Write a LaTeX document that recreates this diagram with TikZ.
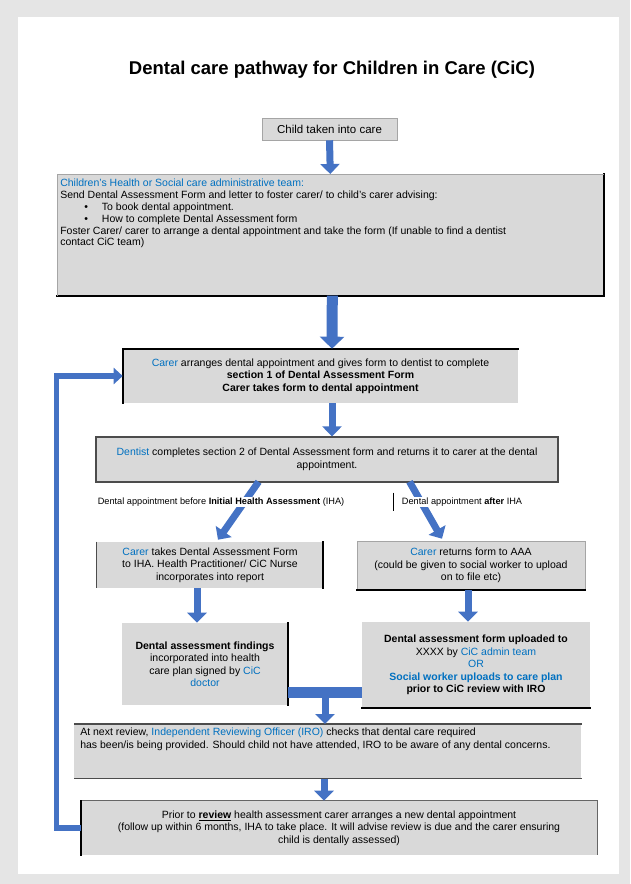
\documentclass[tikz,border=0pt]{standalone}
\usepackage{fontspec}
\setmainfont{Liberation Sans}
\usepackage{xcolor}
\usepackage{tikz}
\usetikzlibrary{positioning, arrows.meta, calc}

\definecolor{boxgray}{RGB}{217,217,217}
\definecolor{edgegray}{RGB}{165,165,165}
\definecolor{flowblue}{RGB}{68,114,196}
\definecolor{txtblue}{RGB}{0,112,192}
\definecolor{pagegray}{RGB}{229,229,229}

\tikzset{
	stepbox/.style={fill=boxgray, draw=edgegray, line width=0.6pt, inner sep=3pt, align=center,
	font=\fontsize{10.5}{12.5}\selectfont}
}
\tikzset{
	shadowedge/.style={line width=1.8pt, draw=black, line cap=rect}
}
\tikzset{
	flow/.style={draw=flowblue, line width=7pt, -{Triangle[width=19pt,length=10pt]}}
}
\tikzset{
	flowwide/.style={draw=flowblue, line width=11pt, -{Triangle[width=24pt,length=12pt]}}
}
\tikzset{
	branchlabel/.style={fill=white, inner sep=1pt, font=\fontsize{9.2}{11}\selectfont}
}

\begin{document}
\begin{tikzpicture}[x=1pt, y=-1pt]

		% page
		\fill[pagegray] (0,0) rectangle (630,884);
		\fill[white] (18,17) rectangle (619,874);
		\useasboundingbox (0,0) rectangle (630,884);

		% title
		\node[font=\fontsize{18.5}{22}\selectfont\bfseries] (title) at (332,70) {Dental care pathway for Children in Care (CiC)};

		% boxes, top to bottom
		\node[stepbox, minimum width=135, minimum height=22, font=\fontsize{11.5}{13}\selectfont] (taken) at (329.5,129) {Child taken into care};

		\node[stepbox, draw=none, anchor=north west, align=left, inner sep=0pt, minimum width=546, minimum height=121] (admin) at (57,174) {%
			\begin{minipage}[t][115pt][t]{540pt}\fontsize{10.5}{11.8}\selectfont
			\vspace*{2pt}{\color{txtblue}Children's Health or Social care administrative team:}\\
			Send Dental Assessment Form and letter to foster carer/ to child's carer advising:\\
			\hspace*{24pt}\textbullet\hspace{14pt}To book dental appointment.\\
			\hspace*{24pt}\textbullet\hspace{14pt}How to complete Dental Assessment form\\
			Foster Carer/ carer to arrange a dental appointment and take the form (If unable to find a dentist\\
			contact CiC team)
			\end{minipage}};

		\node[stepbox, draw=none, minimum width=395, minimum height=54] (carer) at (320.5,376) {%
			{\color{txtblue}Carer} arranges dental appointment and gives form to dentist to complete\\
			\textbf{section 1 of Dental Assessment Form}\\
			\textbf{Carer takes form to dental appointment}};

		\node[stepbox, draw=black!70, line width=1.2pt, minimum width=462, minimum height=45] (dentist) at (327,459.5) {%
			{\color{txtblue}Dentist} completes section 2 of Dental Assessment form and returns it to carer at the dental\\
			appointment.};

		\node[stepbox, draw=none, minimum width=226, minimum height=46] (iha) at (210,565) {%
			{\color{txtblue}Carer} takes Dental Assessment Form\\
			to IHA. Health Practitioner/ CiC Nurse\\
			incorporates into report};

		\node[stepbox, minimum width=228, minimum height=49] (returns) at (471,565.5) {%
			{\color{txtblue}Carer} returns form to AAA\\
			(could be given to social worker to upload\\
			on to file etc)};

		\node[stepbox, draw=none, minimum width=166, minimum height=82] (care) at (205,664) {%
			\textbf{Dental assessment findings}\\
			incorporated into health\\
			care plan signed by {\color{txtblue}CiC}\\
			{\color{txtblue}doctor}};

		\node[stepbox, draw=none, minimum width=228, minimum height=86] (upload) at (476,665) {%
			\textbf{Dental assessment form uploaded to}\\
			XXXX by {\color{txtblue}CiC admin team}\\
			{\color{txtblue}OR}\\
			{\color{txtblue}\textbf{Social worker uploads to care plan}}\\
			\textbf{prior to CiC review with IRO}};

		\node[stepbox, draw=none, anchor=north west, align=left, inner sep=0pt, minimum width=507, minimum height=54] (review) at (74,724) {%
			\begin{minipage}[t][50pt][t]{495pt}\fontsize{10.5}{12.5}\selectfont
			\vspace*{2pt}At next review, {\color{txtblue}Independent Reviewing Officer (IRO)} checks that dental care required\\
			has been/is being provided. Should child not have attended, IRO to be aware of any dental concerns.
			\end{minipage}};

		\node[stepbox, draw=none, minimum width=516, minimum height=54] (prior) at (339,828) {%
			Prior to \underline{\textbf{review}} health assessment carer arranges a new dental appointment\\
			(follow up within 6 months, IHA to take place. It will advise review is due and the carer ensuring\\
			child is dentally assessed)};

		% dark edges of the boxes
		\draw[shadowedge] (admin.north east) -- (admin.south east) -- (admin.south west);
		\draw[draw=edgegray, line width=0.6pt] (admin.south west) -- (admin.north west) -- (admin.north east);
		\draw[shadowedge] (carer.south west) -- (carer.north west) -- (carer.north east);
		\draw[draw=black!70, line width=1.2pt] (iha.north west) -- (iha.south west);
		\draw[shadowedge] (iha.north east) -- (iha.south east);
		\draw[shadowedge] (returns.south west) -- (returns.south east);
		\draw[shadowedge] (care.north east) -- (care.south east);
		\draw[shadowedge] (upload.south west) -- (upload.south east);
		\draw[draw=black!70, line width=1.4pt] (review.north west) -- (review.north east);
		\draw[draw=black!70, line width=1.4pt] (review.south west) -- (review.south east);
		\draw[draw=black!60, line width=1.2pt] (prior.north west) -- (prior.north east) -- (prior.south east);
		\draw[shadowedge] (prior.north west) -- (prior.south west);

		% arrows down the middle
		\draw[flow] (taken.south) -- (admin.south |- admin.north);
		\draw[flowwide] ([xshift=2pt]admin.south) -- ([xshift=11.5pt]carer.north);
		\draw[flow] ([xshift=11.5pt]carer.south) -- ([xshift=5pt]dentist.north);

		% branches
		\coordinate (leftfoot) at ([xshift=-69pt]dentist.south);
		\coordinate (rightfoot) at ([xshift=83pt]dentist.south);
		\draw[flow, shorten <=-1pt] (leftfoot) -- ([xshift=8pt,yshift=2pt]iha.north);
		\draw[flow, shorten <=-1pt] (rightfoot) -- ([xshift=-29pt,yshift=2pt]returns.north);
		\node[branchlabel] (before) at (221,502) {Dental appointment before \textbf{Initial Health Assessment} (IHA)};
		\node[branchlabel] (after) at (462,502) {Dental appointment \textbf{after} IHA};
		\draw[line width=1.4pt] ([xshift=-7pt,yshift=4pt]after.north west) -- ([xshift=-7pt,yshift=-4pt]after.south west);

		\draw[flow] ([xshift=-13pt]iha.south) -- ([xshift=-8pt]care.north);
		\draw[flow] ([xshift=-3pt]returns.south) -- ([xshift=-8pt]upload.north);

		% joining bar to the review
		\coordinate (barleft) at ([yshift=-28pt]care.east);
		\coordinate (barright) at (barleft -| upload.west);
		\coordinate (barmid) at ($(barleft)!0.5!(barright)$);
		\draw[draw=flowblue, line width=11pt] (barleft) -- (barright);
		\draw[flow] ([yshift=-5pt]barmid) -- (barmid |- review.north);

		\draw[flow] ([xshift=-1pt]review.south -| barmid) -- ([xshift=-1pt]prior.north -| barmid);

		% loop back to the carer
		\draw[draw=flowblue, line width=5.5pt, line join=miter, -{Triangle[width=16pt,length=9pt]}] (prior.west) -- ++(-24,0) |- (carer.west);

\end{tikzpicture}
\end{document}
